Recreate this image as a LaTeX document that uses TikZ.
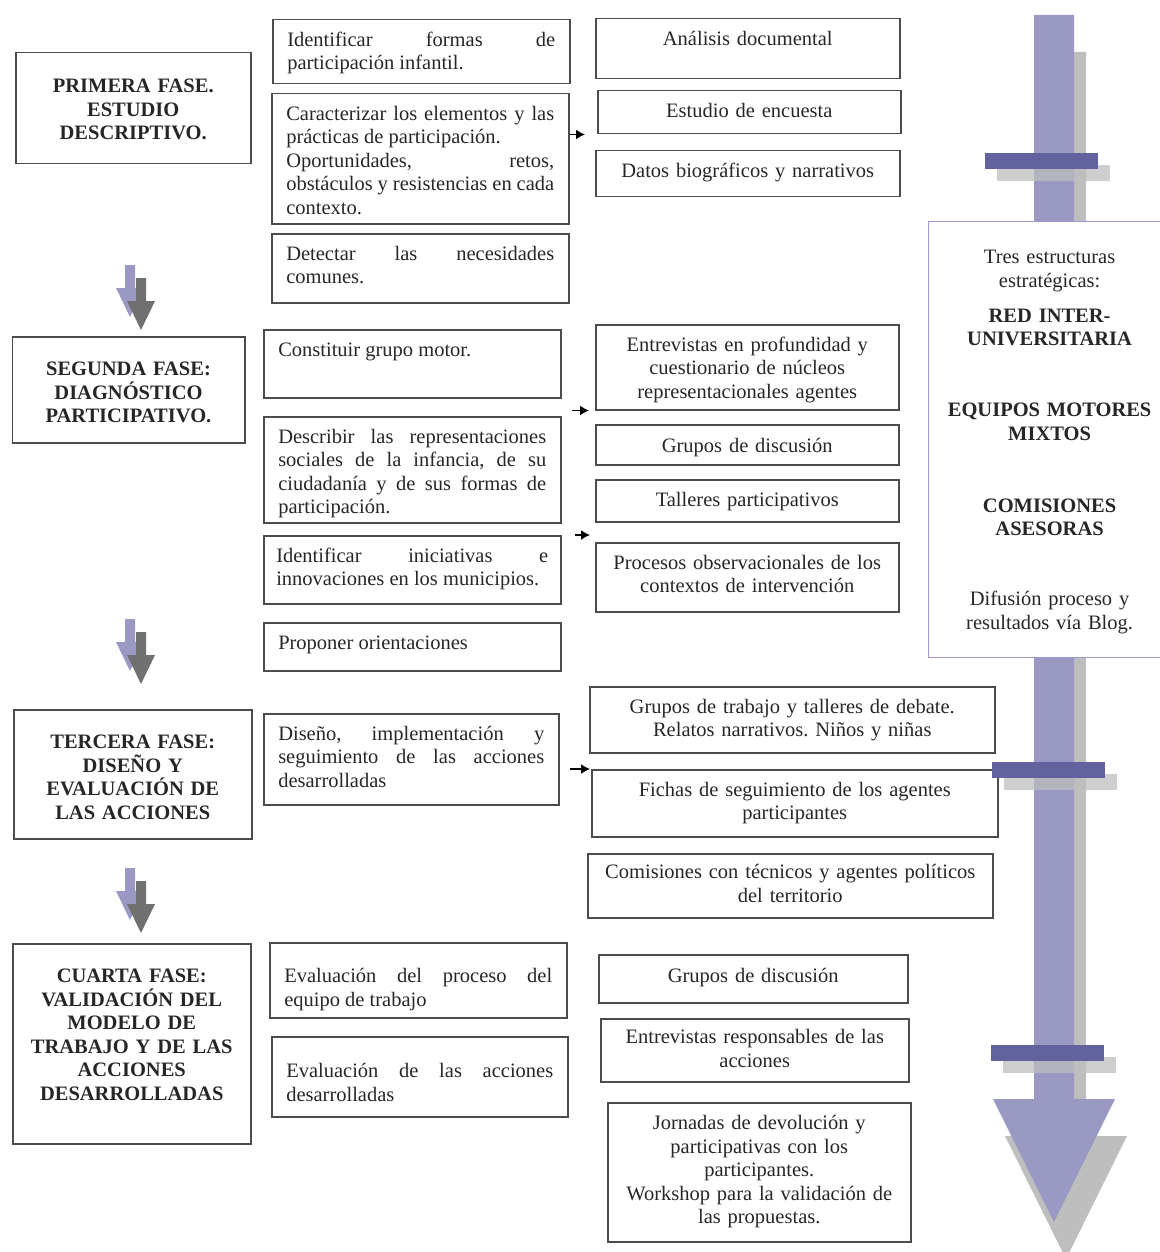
\documentclass[tikz,border=0pt]{standalone}
\usepackage{fontspec}
\setmainfont{Liberation Serif}
\usetikzlibrary{arrows.meta,calc}
\definecolor{lila}{RGB}{153,153,196}
\definecolor{lilaosc}{RGB}{98,98,158}
\definecolor{lilaborde}{RGB}{155,155,210}
\definecolor{sombra}{RGB}{190,190,190}
\definecolor{grisfl}{RGB}{112,112,112}
\hbadness=10000
\tolerance=10000
\hyphenpenalty=10000
\frenchspacing
\tikzset{
  caja/.style={draw=black!70, line width=1.5pt, anchor=north west, inner xsep=14.5pt,
    inner ysep=0pt, text height=26.5pt, text=black!85, font=\fontsize{20.5}{23.5}\selectfont},
  izq/.style={caja, text width=#1, align=justify},
  der/.style={caja, text width=#1, align=center},
  fase/.style={caja, text width=#1, align=center, text height=40pt,
    font=\bfseries\fontsize{20.5}{23.5}\selectfont},
  flecha/.style={draw=black, line width=1.5pt, -{Latex[length=9pt,width=10pt]}}
}

\begin{document}
\begin{tikzpicture}[x=1pt,y=-1pt]
\useasboundingbox (0,0) rectangle (1159,1252);

\node[fase=206pt, text depth=71pt] (f1) at (15,52) {PRIMERA FASE.\\ ESTUDIO\\ DESCRIPTIVO.};
\node[fase=203.5pt, text height=39pt, text depth=67pt] (f2) at (11.5,336) {SEGUNDA FASE:\\ DIAGNÓSTICO\\ PARTICIPATIVO.};
\node[fase=209pt, text height=39pt, text depth=90pt] (f3) at (13,709) {TERCERA FASE:\\ DISEÑO Y\\ EVALUACIÓN DE\\ LAS ACCIONES};
\node[fase=209pt, text height=39pt, text depth=161pt] (f4) at (12,943) {CUARTA FASE:\\ VALIDACIÓN DEL\\ MODELO DE\\ TRABAJO Y DE LAS\\ ACCIONES\\ DESARROLLADAS};

\node[izq=268pt, text depth=37.5pt] (obj1) at (272,19) {Identificar formas de\linebreak participación infantil.};
\node[izq=268pt, text depth=103.5pt] (obj2) at (271,93) {Caracterizar los elementos y las\linebreak prácticas de participación.\\ Oportunidades, retos,\linebreak obstáculos y resistencias en cada\linebreak contexto.};
\node[izq=268pt, text depth=42.5pt] (obj3) at (271,233) {Detectar las necesidades\linebreak comunes.};
\node[izq=268pt, text depth=41.5pt] (obj4) at (263,329) {Constituir grupo motor.};
\node[izq=268pt, text depth=79.5pt] (obj5) at (263,416) {Describir las representaciones\linebreak sociales de la infancia, de su\linebreak ciudadanía y de sus formas de\linebreak participación.};
\node[izq=272pt, inner xsep=12.5pt, text depth=41.5pt] (obj6) at (263,535) {Identificar iniciativas e\linebreak innovaciones en los municipios.};
\node[izq=268pt, text depth=21.5pt] (obj7) at (263,622) {Proponer orientaciones};
\node[izq=266pt, text depth=64.5pt] (obj8) at (263,713) {Diseño, implementación y\linebreak seguimiento de las acciones\linebreak desarrolladas};
\node[izq=268pt, text height=40pt, text depth=35pt] (obj9) at (269,942) {Evaluación del proceso del\linebreak equipo de trabajo};
\node[izq=267pt, text height=41pt, text depth=39pt] (obj10) at (271,1036) {Evaluación de las acciones\linebreak desarrolladas};

\node[der=275pt, text depth=33.5pt] (tec1) at (595,18) {Análisis documental};
\node[der=274pt, text depth=16.5pt] (tec2) at (597,90) {Estudio de encuesta};
\node[der=275pt, text depth=19.5pt] (tec3) at (595,150) {Datos biográficos y narrativos};
\node[der=274pt, text depth=58.5pt] (tec4) at (595,324) {Entrevistas en profundidad y\\ cuestionario de núcleos\\ representacionales agentes};
\node[der=274pt, text height=28pt, text depth=12pt] (tec5) at (595,424) {Grupos de discusión};
\node[der=274pt, text depth=15.5pt] (tec6) at (595,479) {Talleres participativos};
\node[der=274pt, text depth=42.5pt] (tec7) at (595,542) {Procesos observacionales de los\\ contextos de intervención};
\node[der=376pt, text depth=39.5pt] (tec8) at (589,686) {Grupos de trabajo y talleres de debate.\\ Relatos narrativos. Niños y niñas};
\node[der=377pt, text depth=40.5pt] (tec9) at (591,769) {Fichas de seguimiento de los agentes\\ participantes};
\node[der=376pt, text height=25pt, text depth=39pt] (tec10) at (587,853) {Comisiones con técnicos y agentes políticos\\ del territorio};
\node[der=280pt, text height=28pt, text depth=20pt] (tec11) at (598,954) {Grupos de discusión};
\node[der=279pt, text height=25pt, text depth=38pt] (tec12) at (600,1018) {Entrevistas responsables de las\\ acciones};
\node[der=274pt, text height=27pt, text depth=112pt] (tec13) at (607,1102) {Jornadas de devolución y\\ participativas con los\\ participantes.\\ Workshop para la validación de\\ las propuestas.};

\draw[flecha, shorten >=12pt] (obj2.east |- tec2.south west) -- (tec2.south west);
\draw[flecha, shorten <=10pt, shorten >=6pt] (obj4.east |- tec4.south west) -- (tec4.south west);
\draw[flecha, shorten <=13pt, shorten >=5pt] (obj6.north east) -- (obj6.north east -| tec7.west);
\draw[flecha, shorten <=10pt, shorten >=1pt] (obj8.east |- tec9.north west) -- (tec9.north west);

\foreach \y in {265,619,868}
  \foreach \c/\dx/\dy in {lila/0/0, grisfl/11/13}
    \fill[\c, shift={(\dx,\dy)}] (125,\y) -- (135,\y) -- (135,\y+23) -- (144,\y+23)
      -- (130,\y+52) -- (116,\y+23) -- (125,\y+23) -- cycle;

\fill[sombra] (1046,52) -- (1086,52) -- (1086,1136) -- (1127,1136) -- (1066,1259)
  -- (1005,1136) -- (1046,1136) -- cycle;
\fill[lila] (1034,15) -- (1074,15) -- (1074,1099) -- (1115,1099) -- (1054,1222)
  -- (993,1099) -- (1034,1099) -- cycle;
\foreach \x/\y in {985/153, 992/762, 991/1045} {
  \fill[sombra, fill opacity=0.75] (\x+12,\y+12) rectangle ++(113,16);
  \fill[lilaosc] (\x,\y) rectangle ++(113,16);
}

\node[draw=lilaborde, line width=1.2pt, fill=white, anchor=north west, inner sep=0pt,
  text width=242pt, align=center, text height=42pt, text depth=394pt, text=black!85,
  font=\fontsize{20.5}{23.5}\selectfont] (estructuras) at (928,221)
  {Tres estructuras\\ estratégicas:\\[11.5pt] \textbf{RED INTER-}\\ \textbf{UNIVERSITARIA}\\[47.5pt]
   \textbf{EQUIPOS MOTORES}\\ \textbf{MIXTOS}\\[48.5pt] \textbf{COMISIONES}\\ \textbf{ASESORAS}\\[46.5pt]
   Difusión proceso y\\ resultados vía Blog.};
\end{tikzpicture}
\end{document}
